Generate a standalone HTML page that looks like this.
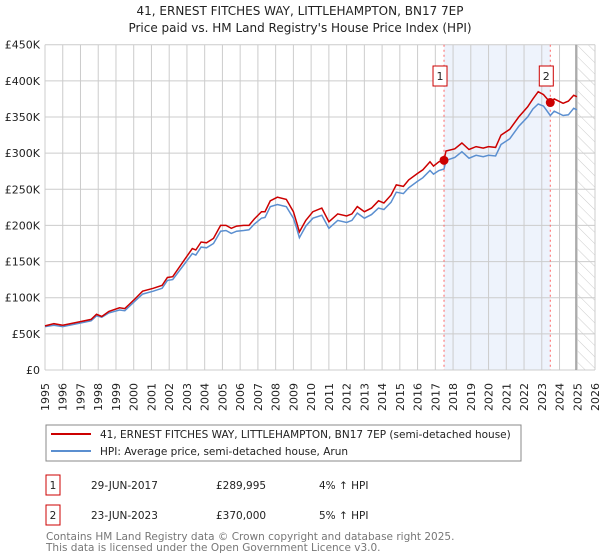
<!DOCTYPE html>
<html><head><meta charset="utf-8"><style>
body{margin:0;background:#fff;font-family:"DejaVu Sans","Liberation Sans",sans-serif;}
#wrap{position:relative;width:600px;height:560px;overflow:hidden;}
</style></head><body>
<div id="wrap">
<svg id="chart" width="600" height="560" xmlns="http://www.w3.org/2000/svg" font-family="DejaVu Sans, Liberation Sans, sans-serif">
<defs>
<pattern id="hatch" width="8" height="8" patternUnits="userSpaceOnUse" patternTransform="rotate(-45)">
<line x1="0" y1="0" x2="0" y2="8" stroke="#ccc" stroke-width="1"/></pattern>
</defs>
<text x="300" y="15" text-anchor="middle" font-size="12" fill="#222">41, ERNEST FITCHES WAY, LITTLEHAMPTON, BN17 7EP</text>
<text x="300" y="32" text-anchor="middle" font-size="12" fill="#222">Price paid vs. HM Land Registry's House Price Index (HPI)</text>
<g id="grid"></g>
<g id="marks"></g>
<g id="axes"></g>
<rect x="46" y="425" width="475" height="36" fill="#fff" stroke="#888"/>
<line x1="51" y1="434" x2="91" y2="434" stroke="#cc0000" stroke-width="2"/>
<text x="100" y="438" font-size="10.5" fill="#222">41, ERNEST FITCHES WAY, LITTLEHAMPTON, BN17 7EP (semi-detached house)</text>
<line x1="51" y1="451" x2="91" y2="451" stroke="#5b8fd0" stroke-width="2"/>
<text x="100" y="455" font-size="10.5" fill="#222">HPI: Average price, semi-detached house, Arun</text>
<g font-size="10.5" fill="#222">
<rect x="46" y="475" width="14" height="20" fill="#fff" stroke="#cc0000"/>
<text x="53" y="489" text-anchor="middle">1</text>
<text x="91" y="489">29-JUN-2017</text><text x="216" y="489">£289,995</text><text x="319" y="489">4% ↑ HPI</text>
</g>
<g font-size="10.5" fill="#222">
<rect x="46" y="505" width="14" height="20" fill="#fff" stroke="#cc0000"/>
<text x="53" y="519" text-anchor="middle">2</text>
<text x="91" y="519">23-JUN-2023</text><text x="216" y="519">£370,000</text><text x="319" y="519">5% ↑ HPI</text>
</g>
<text x="46" y="540" font-size="10.5" fill="#777">Contains HM Land Registry data © Crown copyright and database right 2025.</text>
<text x="46" y="551" font-size="10.5" fill="#777">This data is licensed under the Open Government Licence v3.0.</text>
</svg>
</div>
<script>
const yTicks=[0,50,100,150,200,250,300,350,400,450];
const yTickLabels=["£0","£50K","£100K","£150K","£200K","£250K","£300K","£350K","£400K","£450K"];
const xTicks=[1995,1996,1997,1998,1999,2000,2001,2002,2003,2004,2005,2006,2007,2008,2009,2010,2011,2012,2013,2014,2015,2016,2017,2018,2019,2020,2021,2022,2023,2024,2025,2026];
const years=[1995.0,1995.5,1996.0,1997.0,1997.6,1997.9,1998.2,1998.6,1999.2,1999.5,2000.1,2000.5,2001.1,2001.6,2001.9,2002.2,2002.9,2003.3,2003.5,2003.8,2004.1,2004.5,2004.9,2005.2,2005.5,2005.8,2006.2,2006.5,2006.8,2007.2,2007.4,2007.7,2008.1,2008.6,2009.0,2009.2,2009.34,2009.7,2010.1,2010.6,2011.0,2011.5,2012.0,2012.3,2012.6,2013.0,2013.4,2013.8,2014.1,2014.5,2014.8,2015.2,2015.5,2016.0,2016.3,2016.7,2016.9,2017.2,2017.49,2017.6,2018.1,2018.5,2018.9,2019.3,2019.7,2020.0,2020.4,2020.7,2021.2,2021.7,2022.2,2022.5,2022.8,2023.1,2023.48,2023.7,2024.2,2024.5,2024.8,2024.98];
const priceSeries=[61,64,62,67,70,77,74,81,86,85,99,109,113,117,128,129,154,168,166,177,176,182,200,200,196,199,200,200,209,219,219,234,239,236,219,203,191,207,219,224,205,216,213,216,226,219,224,234,231,242,256,254,263,272,277,288,282,288,290,303,306,314,305,309,307,309,308,325,333,350,364,375,385,381,370,375,369,372,380,378];
const hpiSeries=[60,62,60,65,68,75,73,79,83,82,96,105,109,113,124,125,148,161,159,170,169,175,192,193,189,192,193,194,202,210,211,226,229,226,210,195,183,199,210,214,196,207,204,207,217,210,215,224,222,232,246,244,252,261,266,276,271,276,278,290,294,302,293,297,295,297,296,312,320,337,350,361,368,365,352,358,352,353,362,360];
const saleYears=[2017.49,2023.48];
const salePrices=[290,370];
const saleLabels=["1","2"];

const NS="http://www.w3.org/2000/svg";
const L=45,R=595,T=44.7,B=370;
const xS=y=>L+(y-1995)/(2026-1995)*(R-L);
const yS=v=>B-v/450*(B-T);
const grid=document.getElementById('grid'),marks=document.getElementById('marks'),axes=document.getElementById('axes');
function mk(tag,attrs,parent){const e=document.createElementNS(NS,tag);for(const k in attrs)e.setAttribute(k,attrs[k]);parent.appendChild(e);return e;}
const sh=mk('rect',{x:xS(saleYears[0]),y:T,width:xS(saleYears[1])-xS(saleYears[0]),height:B-T,fill:'#eef3fc'},grid);


const hx=xS(2024.93);
const ht=mk('rect',{x:hx,y:T,width:R-hx,height:B-T,fill:'url(#hatch)'},grid);


yTicks.forEach((v,i)=>{
 const g=mk('line',{x1:L,x2:R,y1:yS(v),y2:yS(v),stroke:'#ccc','stroke-width':1},grid);
 
 
 const t=mk('text',{x:40,y:yS(v)+4,'text-anchor':'end','font-size':11,fill:'#222'},axes);
 t.textContent=yTickLabels[i];
 
 
});
xTicks.forEach(yr=>{
 const g=mk('line',{x1:xS(yr),x2:xS(yr),y1:T,y2:B,stroke:'#ccc','stroke-width':1},grid);
 
 
 const t=mk('text',{x:0,y:0,'text-anchor':'end','font-size':11,fill:'#222',transform:`translate(${xS(yr)+4},383) rotate(-90)`},axes);
 t.textContent=String(yr);
 
 
});
const fl=mk('line',{x1:hx,x2:hx,y1:T,y2:B,stroke:'#999','stroke-width':1.5},grid);


saleYears.forEach((sy,i)=>{
 const d=mk('line',{x1:xS(sy),x2:xS(sy),y1:T,y2:B,stroke:'#ff6666','stroke-width':1,'stroke-dasharray':'2,3'},marks);
 
 
});
function path(vals){return vals.map((v,i)=>(i?'L':'M')+xS(years[i]).toFixed(1)+','+yS(v).toFixed(1)).join('');}
const hp=mk('path',{d:path(hpiSeries),fill:'none',stroke:'#5b8fd0','stroke-width':1.5},marks);


const pp=mk('path',{d:path(priceSeries),fill:'none',stroke:'#cc0000','stroke-width':1.5},marks);


saleYears.forEach((sy,i)=>{
 const c=mk('circle',{cx:xS(sy),cy:yS(salePrices[i]),r:4.5,fill:'#cc0000'},marks);
 
 
 const b=mk('rect',{x:xS(sy)-11,y:66,width:14,height:20,fill:'#fff',stroke:'#cc0000'},marks);
 
 
 const t=mk('text',{x:xS(sy)-4,y:80,'text-anchor':'middle','font-size':11,fill:'#222'},marks);
 t.textContent=saleLabels[i];
 
 
});
</script>
</body></html>
